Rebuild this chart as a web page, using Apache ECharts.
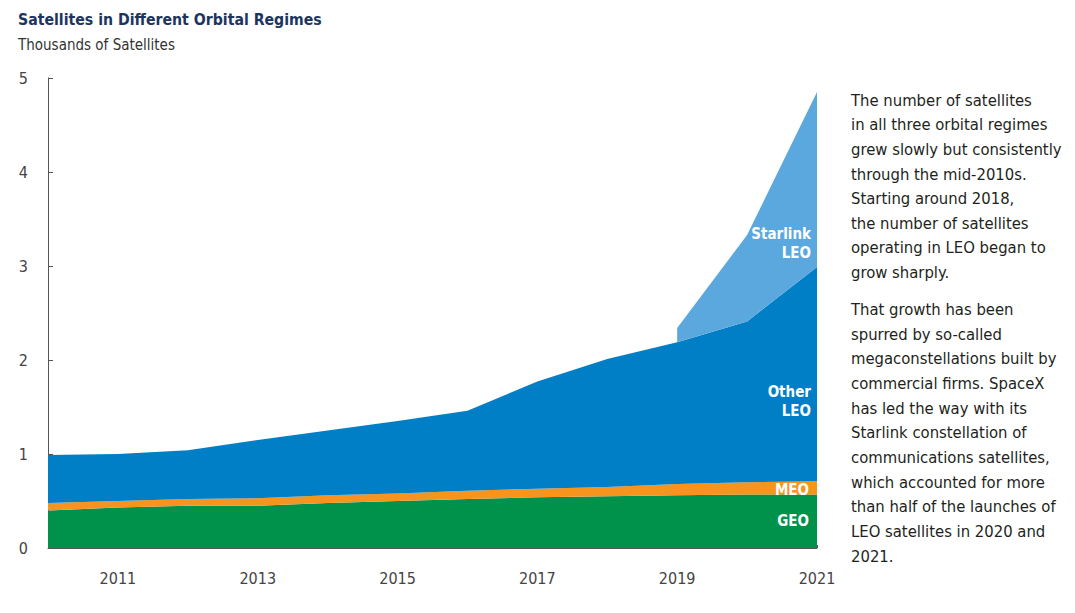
<!DOCTYPE html>
<html>
<head>
<meta charset="utf-8">
<script src="https://cdn.jsdelivr.net/npm/echarts@6/dist/echarts.min.js"></script>
<style>
  html, body { margin: 0; padding: 0; background: #fff; }
  #chart { width: 1075px; height: 613px; }
</style>
</head>
<body>
<div id="chart"></div>
<script>
var FONT = "'DejaVu Sans Condensed', 'Roboto', sans-serif";

// years on the x axis
var years = ['2010', '2011', '2012', '2013', '2014', '2015', '2016', '2017', '2018', '2019', '2020', '2021'];

// thousands of satellites, per regime (stacked bottom to top)
var geo      = [0.40, 0.43, 0.45, 0.45, 0.48, 0.50, 0.52, 0.54, 0.55, 0.56, 0.57, 0.57];
var meo      = [0.08, 0.07, 0.07, 0.08, 0.08, 0.08, 0.09, 0.09, 0.10, 0.12, 0.13, 0.14];
var otherLeo = [0.51, 0.50, 0.52, 0.62, 0.69, 0.77, 0.85, 1.14, 1.36, 1.51, 1.71, 2.28];
var starlink = [null, null, null, null, null, null, null, null, null, 0.15, 0.92, 1.86];

var yTicks = [0, 1, 2, 3, 4, 5];

var note = [
  'The number of satellites',
  'in all three orbital regimes',
  'grew slowly but consistently',
  'through the mid-2010s.',
  'Starting around 2018,',
  'the number of satellites',
  'operating in LEO began to',
  'grow sharply.'
];
var note2 = [
  'That growth has been',
  'spurred by so-called',
  'megaconstellations built by',
  'commercial firms. SpaceX',
  'has led the way with its',
  'Starlink constellation of',
  'communications satellites,',
  'which accounted for more',
  'than half of the launches of',
  'LEO satellites in 2020 and',
  '2021.'
];

var chart = echarts.init(document.getElementById('chart'), null, {renderer: 'svg'});

function area(name, data, color) {
  return {
    name: name,
    type: 'line',
    stack: 'total',
    data: data,
    symbol: 'none',
    lineStyle: {width: 0},
    areaStyle: {color: color, opacity: 1},
    itemStyle: {color: color},
    silent: true
  };
}

// white in-chart series names, right aligned at x
function label(text, x, y) {
  return {
    type: 'text', x: x, y: y, z: 100,
    style: {text: text, fill: '#fff', font: 'bold 15px ' + FONT, textAlign: 'right', textVerticalAlign: 'middle'}
  };
}

var option = {
  animation: false,
  textStyle: {fontFamily: FONT},
  title: {
    left: 18, top: 11, padding: 0,
    text: 'Satellites in Different Orbital Regimes',
    textStyle: {fontSize: 15.7, fontWeight: 'bold', color: '#1c355e', fontFamily: FONT},
    subtext: 'Thousands of Satellites',
    subtextStyle: {fontSize: 15, color: '#333', fontFamily: FONT},
    itemGap: 10
  },
  grid: {left: 48, right: 258, top: 78, bottom: 65},
  xAxis: {
    type: 'category',
    data: years,
    boundaryGap: false,
    axisLine: {lineStyle: {color: '#555', width: 1}},
    axisTick: {
      inside: true, length: 3,
      interval: function (i) { return i % 2 === 1; },
      lineStyle: {color: '#555'}
    },
    axisLabel: {
      interval: function (i) { return i % 2 === 1; },
      margin: 22, fontSize: 16, color: '#444', fontFamily: FONT
    },
    splitLine: {show: false}
  },
  yAxis: {
    type: 'value',
    min: yTicks[0], max: yTicks[yTicks.length - 1], interval: 1,
    axisLine: {show: true, lineStyle: {color: '#555', width: 1}},
    axisTick: {show: true, inside: true, length: 5, lineStyle: {color: '#555'}},
    axisLabel: {margin: 20, fontSize: 16, color: '#444', fontFamily: FONT, align: 'right'},
    splitLine: {show: false}
  },
  series: [
    area('GEO', geo, '#00924a'),
    area('MEO', meo, '#f7941d'),
    area('Other LEO', otherLeo, '#007ec6'),
    area('Starlink LEO', starlink, '#5ba8de')
  ],
  graphic: [
    label('Starlink', 811, 234),
    label('LEO', 811, 253),
    label('Other', 811, 392),
    label('LEO', 811, 411),
    label('MEO', 809, 490),
    label('GEO', 809, 521),
    {
      type: 'text', left: 851, top: 88,
      style: {text: note.join('\n'), fill: '#231f20', font: '16.5px ' + FONT, lineHeight: 24.6}
    },
    {
      type: 'text', left: 851, top: 297,
      style: {text: note2.join('\n'), fill: '#231f20', font: '16.5px ' + FONT, lineHeight: 24.7}
    }
  ]
};

chart.setOption(option);
</script>
</body>
</html>
